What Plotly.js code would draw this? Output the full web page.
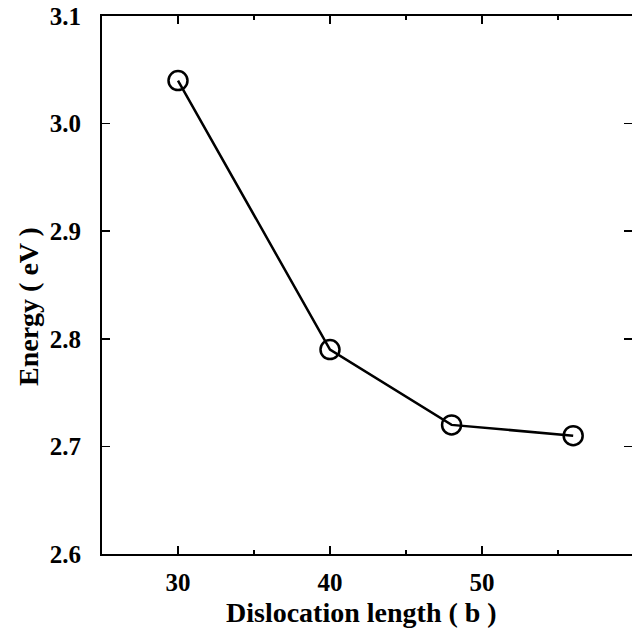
<!DOCTYPE html>
<html>
<head>
<meta charset="utf-8">
<script src="https://cdn.plot.ly/plotly-3.0.1.min.js"></script>
<style>html,body{margin:0;padding:0;background:#fff;overflow:hidden}</style>
</head>
<body>
<div id="chart" style="width:632px;height:637px"></div>
<script>
const dislocationLength = [30, 40, 48, 56];
const energy = [3.04, 2.79, 2.72, 2.71];
const xTickVals = [30, 40, 50];
const xTickText = ['30', '40', '50'];
const yTickVals = [2.6, 2.7, 2.8, 2.9, 3.0, 3.1];
const yTickText = ['2.6', '2.7', '2.8', '2.9', '3.0', '3.1'];
const xTitle = 'Dislocation length ( b )';
const yTitle = 'Energy ( eV )';

const FAM = 'Liberation Serif';
const bold = s => '<b>' + s + '</b>';

const trace = {
  x: dislocationLength, y: energy,
  type: 'scatter', mode: 'lines+markers',
  line: {color: '#000', width: 2.5},
  marker: {symbol: 'circle-open', size: 19, color: '#000', line: {width: 2.5, color: '#000'}},
  hoverinfo: 'skip', showlegend: false
};

const common = {
  ticks: 'inside', ticklen: 8, tickwidth: 1.5, tickcolor: '#000',
  showgrid: false, zeroline: false, linecolor: '#000', linewidth: 2
};
const minor = {dtick: 5, tick0: 0, ticks: 'inside', ticklen: 4, tickwidth: 1.5, tickcolor: '#000'};

const L = 102, T = 16, W = 530, H = 538;

const layout = {
  width: 632, height: 637,
  margin: {l: L, r: 0, t: T, b: 637 - T - H},
  paper_bgcolor: '#fff', plot_bgcolor: '#fff',
  font: {family: FAM, color: '#000'},
  xaxis: Object.assign({}, common, {
    range: [25, 59.87], tickvals: xTickVals, ticktext: xTickText.map(bold),
    showline: true, minor: minor,
    tickfont: {family: FAM, size: 25, color: '#000'},
    ticklabelstandoff: 5
  }),
  xaxis2: Object.assign({}, common, {
    overlaying: 'x', matches: 'x', side: 'top', range: [25, 59.87],
    tickvals: xTickVals, showticklabels: false, showline: true, minor: minor
  }),
  yaxis: Object.assign({}, common, {
    range: [2.6, 3.1], tickvals: yTickVals, ticktext: yTickText.map(bold),
    showline: true,
    tickfont: {family: FAM, size: 25, color: '#000'},
    ticklabelstandoff: 14
  }),
  yaxis2: Object.assign({}, common, {
    overlaying: 'y', matches: 'y', side: 'right', range: [2.6, 3.1],
    tickvals: yTickVals, showticklabels: false, showline: false
  }),
  annotations: [
    {text: bold(xTitle), xref: 'paper', yref: 'paper',
     x: (361 - L) / W, y: 1 - (612 - T) / H, xanchor: 'center', yanchor: 'middle',
     showarrow: false, font: {family: FAM, size: 28, color: '#000'}},
    {text: bold(yTitle), xref: 'paper', yref: 'paper', textangle: -90,
     x: (28 - L) / W, y: 1 - (307 - T) / H, xanchor: 'center', yanchor: 'middle',
     showarrow: false, font: {family: FAM, size: 28, color: '#000'}}
  ]
};

const dummy = {x: [dislocationLength[0]], y: [energy[0]], xaxis: 'x2', yaxis: 'y2', mode: 'markers',
  marker: {opacity: 0}, hoverinfo: 'skip', showlegend: false};

Plotly.newPlot('chart', [trace, dummy], layout, {staticPlot: true});
</script>
</body>
</html>
